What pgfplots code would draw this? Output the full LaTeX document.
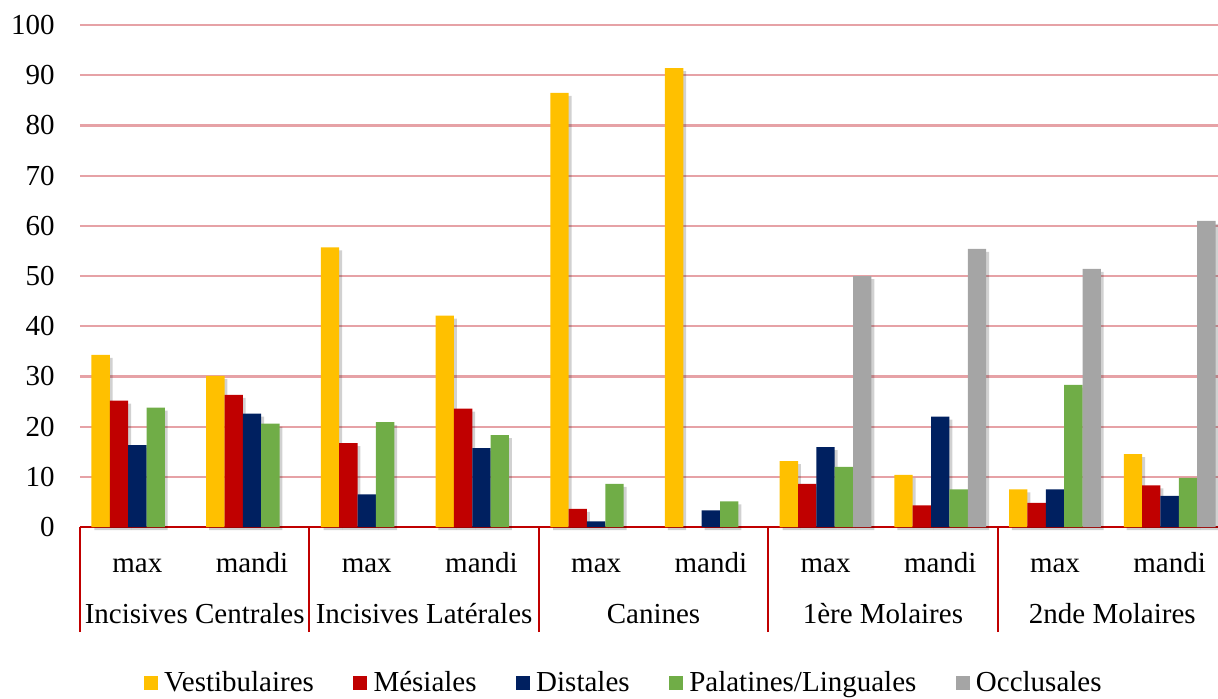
\documentclass[border=0pt]{standalone}
\usepackage{pgfplots}
\pgfplotsset{compat=1.18}
\usepackage{pgfplotstable}
\usepackage{fontspec}
\setmainfont{Liberation Serif}

\definecolor{cV}{HTML}{FFC000}
\definecolor{cM}{HTML}{C00000}
\definecolor{cD}{HTML}{002060}
\definecolor{cP}{HTML}{70AD47}
\definecolor{cO}{HTML}{A5A5A5}
\definecolor{gridc}{RGB}{230,162,166}
\definecolor{axc}{RGB}{192,0,0}

\pgfplotstableread{
x V M D P O
0 34.3 25.2 16.3 23.8 nan
1 30.1 26.3 22.6 20.6 nan
2 55.7 16.7 6.5 20.9 nan
3 42.1 23.6 15.7 18.3 nan
4 86.5 3.6 1.1 8.6 nan
5 91.4 nan 3.3 5.1 nan
6 13.1 8.6 15.9 12.0 50.0
7 10.4 4.3 22.0 7.5 55.4
8 7.5 4.8 7.5 28.3 51.4
9 14.5 8.3 6.2 9.8 61.0
}\data

\begin{document}
\fontsize{14.5}{17}\selectfont
\begin{tikzpicture}
\useasboundingbox (0,0) rectangle (609pt,349pt);
\clip (0,0) rectangle (609pt,349pt);
\begin{axis}[
  at={(40pt,85.5pt)}, anchor=south west,
  scale only axis, width=573.5pt, height=251pt,
  xmin=-0.5, xmax=9.5, ymin=0, ymax=100,
  ybar, bar width=0.16,
  ytick={0,10,...,100},
  xtick={0,...,9},
  xticklabels={max,mandi,max,mandi,max,mandi,max,mandi,max,mandi},
  /pgf/number format/assume math mode=true,
  axis x line*=bottom, axis y line*=left,
  y axis line style={draw=none},
  x axis line style={draw=axc, line width=1.1pt},
  major tick length=0pt,
  ymajorgrids, grid style={gridc, line width=1.1pt},
  yticklabel style={anchor=east, inner sep=0pt, xshift=-12.5pt},
  xticklabel style={anchor=base, inner sep=0pt, yshift=-22.5pt},
  extra x ticks={-0.5,1.5,3.5,5.5,7.5,9.5},
  extra x tick labels={},
  extra x tick style={major tick length=52.5pt, tick align=outside,
     tick style={draw=axc, line width=1pt}, grid=none},
  clip mode=individual,
  legend style={at={(0.476,-0.311)}, anchor=center, draw=none,
     legend columns=5, font=\fontsize{14.5}{17}\selectfont,
     /tikz/every even column/.append style={column sep=16.5pt},
     nodes={inner sep=3.2pt}},
  legend image code/.code={\fill[#1] (0pt,-3.45pt) rectangle (6.9pt,3.45pt);},
]
% shadows
\addplot[forget plot, fill=black, opacity=0.18, draw=none, bar shift=-0.295, yshift=-1.5pt] table[x=x,y=V]{\data};
\addplot[forget plot, fill=black, opacity=0.18, draw=none, bar shift=-0.135, yshift=-1.5pt] table[x=x,y=M]{\data};
\addplot[forget plot, fill=black, opacity=0.18, draw=none, bar shift=0.025, yshift=-1.5pt] table[x=x,y=D]{\data};
\addplot[forget plot, fill=black, opacity=0.18, draw=none, bar shift=0.185, yshift=-1.5pt] table[x=x,y=P]{\data};
\addplot[forget plot, fill=black, opacity=0.18, draw=none, bar shift=0.345, yshift=-1.5pt] table[x=x,y=O]{\data};
% bars
\addplot[fill=cV, draw=none, bar shift=-0.32] table[x=x,y=V]{\data};
\addlegendentry{Vestibulaires}
\addplot[fill=cM, draw=none, bar shift=-0.16] table[x=x,y=M]{\data};
\addlegendentry{Mésiales}
\addplot[fill=cD, draw=none, bar shift=0] table[x=x,y=D]{\data};
\addlegendentry{Distales}
\addplot[fill=cP, draw=none, bar shift=0.16] table[x=x,y=P]{\data};
\addlegendentry{Palatines/Linguales}
\addplot[fill=cO, draw=none, bar shift=0.32] table[x=x,y=O]{\data};
\addlegendentry{Occlusales}
% group labels
\node[anchor=base, inner sep=0pt, yshift=-48pt] at (axis cs:0.5,0) {Incisives Centrales};
\node[anchor=base, inner sep=0pt, yshift=-48pt] at (axis cs:2.5,0) {Incisives Latérales};
\node[anchor=base, inner sep=0pt, yshift=-48pt] at (axis cs:4.5,0) {Canines};
\node[anchor=base, inner sep=0pt, yshift=-48pt] at (axis cs:6.5,0) {1ère Molaires};
\node[anchor=base, inner sep=0pt, yshift=-48pt] at (axis cs:8.5,0) {2nde Molaires};
\end{axis}
\end{tikzpicture}
\end{document}
